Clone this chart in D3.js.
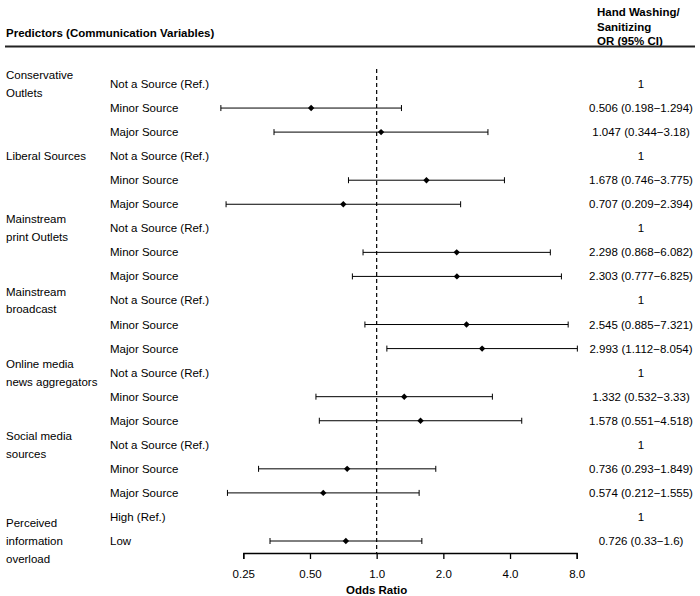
<!DOCTYPE html>
<html>
<head>
<meta charset="utf-8">
<script src="https://cdn.jsdelivr.net/npm/d3@7"></script>
<style>
  body { margin: 0; background: #fff; }
  text { font-family: "Liberation Sans", Arial, sans-serif; fill: #000; }
</style>
</head>
<body>
<div id="chart"></div>
<script>
// group labels (lines), number of rows in each group, row whose y the label is centred on
var groupLines = [
    ["Conservative", "Outlets"],
    ["Liberal Sources"],
    ["Mainstream", "print Outlets"],
    ["Mainstream", "broadcast"],
    ["Online media", "news aggregators"],
    ["Social media", "sources"],
    ["Perceived", "information", "overload"]
];
var groupRows = [3, 3, 3, 3, 3, 3, 2];
var groupAnchor = [0, 0, 0, 0, 0, 0, 1];

var rowLabels = [
    "Not a Source (Ref.)", "Minor Source", "Major Source",
    "Not a Source (Ref.)", "Minor Source", "Major Source",
    "Not a Source (Ref.)", "Minor Source", "Major Source",
    "Not a Source (Ref.)", "Minor Source", "Major Source",
    "Not a Source (Ref.)", "Minor Source", "Major Source",
    "Not a Source (Ref.)", "Minor Source", "Major Source",
    "High (Ref.)", "Low"
];
// null = reference category
var oddsRatio = [null, 0.506, 1.047, null, 1.678, 0.707, null, 2.298, 2.303,
    null, 2.545, 2.993, null, 1.332, 1.578, null, 0.736, 0.574, null, 0.726];
var ciLow = [null, 0.198, 0.344, null, 0.746, 0.209, null, 0.868, 0.777,
    null, 0.885, 1.112, null, 0.532, 0.551, null, 0.293, 0.212, null, 0.33];
var ciHigh = [null, 1.294, 3.18, null, 3.775, 2.394, null, 6.082, 6.825,
    null, 7.321, 8.054, null, 3.33, 4.518, null, 1.849, 1.555, null, 1.6];
var orText = ["1", "0.506 (0.198\u22121.294)", "1.047 (0.344\u22123.18)",
    "1", "1.678 (0.746\u22123.775)", "0.707 (0.209\u22122.394)",
    "1", "2.298 (0.868\u22126.082)", "2.303 (0.777\u22126.825)",
    "1", "2.545 (0.885\u22127.321)", "2.993 (1.112\u22128.054)",
    "1", "1.332 (0.532\u22123.33)", "1.578 (0.551\u22124.518)",
    "1", "0.736 (0.293\u22121.849)", "0.574 (0.212\u22121.555)",
    "1", "0.726 (0.33\u22121.6)"];
var tickValues = [0.25, 0.5, 1, 2, 4, 8];
var tickLabels = ["0.25", "0.50", "1.0", "2.0", "4.0", "8.0"];

var width = 700, height = 596;
var fs = "11.5px";

var svg = d3.select("#chart").append("svg")
    .attr("width", width)
    .attr("height", height);

var x = d3.scaleLog().base(2)
    .domain([0.25, 8])
    .range([243.3, 576.7]);

var y = d3.scalePoint()
    .domain(d3.range(rowLabels.length))
    .range([84, 541]);

var axisY = 553;

// headers
svg.append("text")
    .attr("x", 6).attr("y", 37)
    .style("font-size", fs).style("font-weight", "bold")
    .text("Predictors (Communication Variables)");

["Hand Washing/", "Sanitizing", "OR (95% CI)"].forEach(function (t, i) {
    svg.append("text")
        .attr("x", 597).attr("y", 16 + i * 14.5)
        .style("font-size", fs).style("font-weight", "bold")
        .text(t);
});

svg.append("line")
    .attr("x1", 5).attr("x2", 695)
    .attr("y1", 46.5).attr("y2", 46.5)
    .attr("stroke", "#222").attr("stroke-width", 2);

// group labels
var start = 0;
groupLines.forEach(function (lines, g) {
    var cy = y(start + groupAnchor[g]);
    var lh = 17.7;
    var top = cy - (lines.length - 1) * lh / 2;
    lines.forEach(function (t, j) {
        svg.append("text")
            .attr("x", 6).attr("y", top + j * lh)
            .attr("dy", "0.35em")
            .style("font-size", fs)
            .text(t);
    });
    start += groupRows[g];
});

// row labels
svg.selectAll(".rowlab")
    .data(rowLabels)
    .enter().append("text")
    .attr("class", "rowlab")
    .attr("x", 110)
    .attr("y", function (d, i) { return y(i); })
    .attr("dy", "0.35em")
    .style("font-size", fs)
    .text(function (d) { return d; });

// OR column
svg.selectAll(".ortext")
    .data(orText)
    .enter().append("text")
    .attr("class", "ortext")
    .attr("x", 641)
    .attr("y", function (d, i) { return y(i); })
    .attr("dy", "0.35em")
    .attr("text-anchor", "middle")
    .style("font-size", fs)
    .text(function (d) { return d; });

// reference line
svg.append("line")
    .attr("x1", x(1)).attr("x2", x(1))
    .attr("y1", 69).attr("y2", axisY)
    .attr("stroke", "#000")
    .attr("stroke-width", 1.2)
    .attr("stroke-dasharray", "4,3");

// CIs
var est = d3.range(rowLabels.length).filter(function (i) { return oddsRatio[i] != null; });

var ci = svg.selectAll(".ci")
    .data(est)
    .enter().append("g")
    .attr("class", "ci");

ci.append("line")
    .attr("x1", function (i) { return x(ciLow[i]); })
    .attr("x2", function (i) { return x(ciHigh[i]); })
    .attr("y1", function (i) { return y(i); })
    .attr("y2", function (i) { return y(i); })
    .attr("stroke", "#000").attr("stroke-width", 1);

[ciLow, ciHigh].forEach(function (arr) {
    ci.append("line")
        .attr("x1", function (i) { return x(arr[i]); })
        .attr("x2", function (i) { return x(arr[i]); })
        .attr("y1", function (i) { return y(i) - 3; })
        .attr("y2", function (i) { return y(i) + 3; })
        .attr("stroke", "#000").attr("stroke-width", 1);
});

ci.append("path")
    .attr("d", d3.symbol().type(d3.symbolDiamond2).size(26))
    .attr("transform", function (i) { return "translate(" + x(oddsRatio[i]) + "," + y(i) + ")"; })
    .attr("fill", "#000");

// x axis
var axis = svg.append("g")
    .attr("transform", "translate(0," + axisY + ")")
    .call(d3.axisBottom(x)
        .tickValues(tickValues)
        .tickFormat(function (d, i) { return tickLabels[i]; })
        .tickSizeOuter(0)
        .tickSize(6)
        .tickPadding(11));

axis.select(".domain").attr("stroke", "#000").attr("stroke-width", 1.3);
axis.selectAll(".tick line").attr("stroke", "#000").attr("stroke-width", 1.3);
axis.selectAll(".tick text")
    .style("font-size", fs)
    .style("font-family", "'Liberation Sans', Arial, sans-serif")
    .attr("fill", "#000");

svg.append("text")
    .attr("x", x(1)).attr("y", 590)
    .attr("dy", "0.35em")
    .attr("text-anchor", "middle")
    .style("font-size", fs).style("font-weight", "bold")
    .text("Odds Ratio");
</script>
</body>
</html>
